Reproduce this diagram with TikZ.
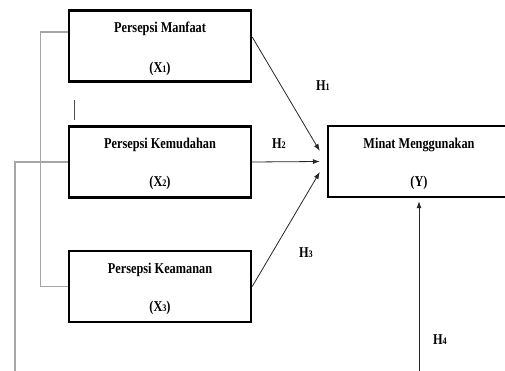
\documentclass[tikz,border=0pt]{standalone}
\usepackage{fontspec}
\setmainfont{Liberation Serif}
\newfontfamily\narrowfont[FakeStretch=0.82]{Liberation Serif}
\usetikzlibrary{arrows.meta}

\tikzstyle{varbox} = [draw=black, line width=2.4pt, minimum width=182pt, minimum height=71pt, inner sep=0pt]
\tikzstyle{txt} = [font=\narrowfont\bfseries\fontsize{15}{17}\selectfont, inner sep=0pt]
\tikzstyle{hyp} = [draw=black!85, line width=0.8pt, -{Latex[length=7pt,width=5pt]}]
\tikzstyle{link} = [draw=gray!70, line width=1.2pt]

\newcommand{\sm}[1]{{\fontsize{10}{11}\selectfont #1}}

\begin{document}
\begin{tikzpicture}[x=1pt, y=-1pt]
	\useasboundingbox (0,0) rectangle (505,371);

	\node[varbox] (x1) at (160,46) {};
	\node[varbox] (x2) at (160,162) {};
	\node[varbox] (x3) at (160,286.5) {};
	\node[varbox] (y) at (419,161.5) {};

	\node[txt] (t1) at (160,29) {Persepsi Manfaat};
	\node[txt] (l1) at (160,69) {(X\sm{1})};
	\node[txt] (t2) at (160,145) {Persepsi Kemudahan};
	\node[txt] (l2) at (160,183) {(X\sm{2})};
	\node[txt] (t3) at (160,270) {Persepsi Keamanan};
	\node[txt] (l3) at (160,308) {(X\sm{3})};
	\node[txt] (ty) at (419,145) {Minat Menggunakan};
	\node[txt] (ly) at (419,183) {(Y)};

	\node[txt] (h1) at (323,86) {H\sm{1}};
	\node[txt] (h2) at (279,144) {H\sm{2}};
	\node[txt] (h3) at (306,253) {H\sm{3}};
	\node[txt] (h4) at (440,340) {H\sm{4}};

	\coordinate (b2) at (15,371);
	\coordinate (b4) at (419,371);
	\coordinate (k1) at (74,100);
	\coordinate (k2) at (74,120);

	\draw[link] ([yshift=14pt]x1.west) -- ++(-27,0) |- (x3.west);
	\draw[link] (x2.west) -| (b2);
	\draw[black!70, line width=0.8pt] (k1) -- (k2);

	\draw[hyp] ([yshift=9pt]x1.east) -- ([xshift=-7pt,yshift=10.5pt]y.west);
	\draw[hyp] (x2.east) -- ([xshift=-7pt]y.west);
	\draw[hyp] (x3.east) -- ([xshift=-7pt,yshift=-10.5pt]y.west);
	\draw[hyp] (b4) -- ([yshift=-3pt]y.south);
\end{tikzpicture}
\end{document}
